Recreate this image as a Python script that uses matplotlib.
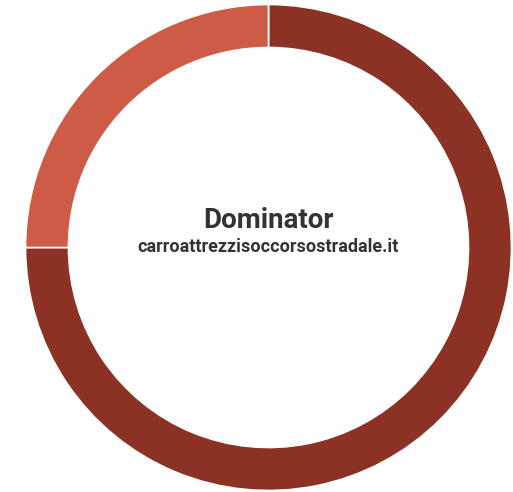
import matplotlib.pyplot as plt

# Data
labels = ['Dominator', 'Other']
values = [75, 25]
colors = ['#8b3225', '#cd5b46']

W, H = 513, 492
fig = plt.figure(figsize=(W / 100, H / 100), dpi=100)
ax = fig.add_axes([0, 0, 1, 1])

cx, cy = 268.5, H - 247.5
ax.pie(values, colors=colors, startangle=90, counterclock=False,
       radius=243, center=(cx, cy), frame=True,
       wedgeprops=dict(width=43, edgecolor='white', linewidth=1.2))
ax.set_xlim(0, W)
ax.set_ylim(0, H)
ax.set_aspect('equal')
ax.axis('off')

ax.text(cx, H - 220, 'Dominator', ha='center', va='center',
        fontsize=20, fontweight='bold', family='Roboto', color='#333333')
ax.text(cx, H - 247, 'carroattrezzisoccorsostradale.it', ha='center', va='center',
        fontsize=13, fontweight='bold', family='Roboto', color='#333333')

fig.savefig('out.png', dpi=100)
